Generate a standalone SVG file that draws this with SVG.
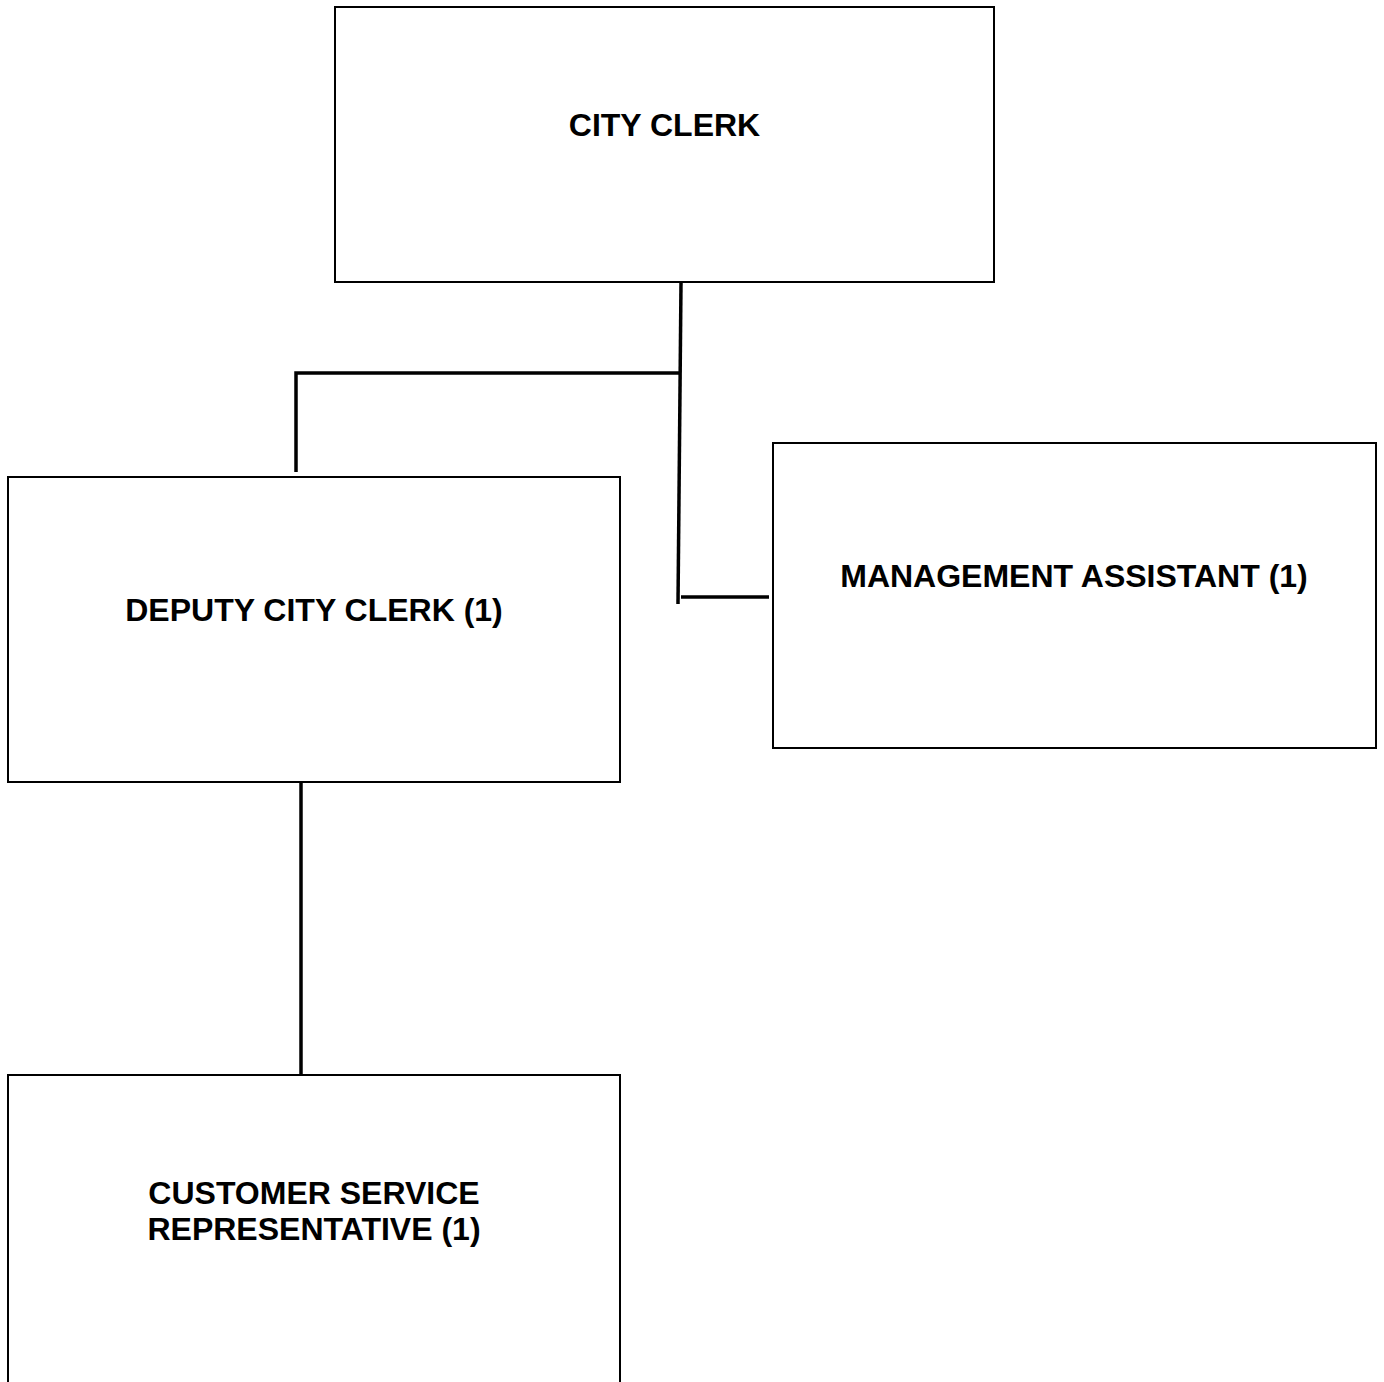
<svg xmlns="http://www.w3.org/2000/svg" width="1384" height="1382" viewBox="0 0 1384 1382">
  <style>
    .box { fill: #ffffff; stroke: #000000; stroke-width: 2; }
    .label { font-family: "Liberation Sans", Arial, sans-serif; font-weight: bold; font-size: 32px; fill: #000000; text-anchor: middle; }
    .link { fill: none; stroke: #000000; stroke-width: 3.5; }
  </style>
  <rect width="1384" height="1382" fill="#ffffff"/>

  <!-- reporting lines -->
  <g id="connectors">
    <path class="link" d="M681 283 L678 604"/>
    <path class="link" d="M679 373 L296 373 L296 472"/>
    <path class="link" d="M681 597 L769 597"/>
    <path class="link" d="M301 783 L301 1075"/>
  </g>

  <g id="city-clerk">
    <rect class="box" x="335" y="7" width="659" height="275"/>
    <text class="label" x="664.5" y="136">CITY CLERK</text>
  </g>

  <g id="deputy-city-clerk">
    <rect class="box" x="8" y="477" width="612" height="305"/>
    <text class="label" x="314" y="621">DEPUTY CITY CLERK (1)</text>
  </g>

  <g id="management-assistant">
    <rect class="box" x="773" y="443" width="603" height="305"/>
    <text class="label" x="1074" y="587">MANAGEMENT ASSISTANT (1)</text>
  </g>

  <g id="customer-service-representative">
    <rect class="box" x="8" y="1075" width="612" height="320"/>
    <text class="label" x="314" y="1204">CUSTOMER SERVICE</text>
    <text class="label" x="314" y="1240">REPRESENTATIVE (1)</text>
  </g>
</svg>
